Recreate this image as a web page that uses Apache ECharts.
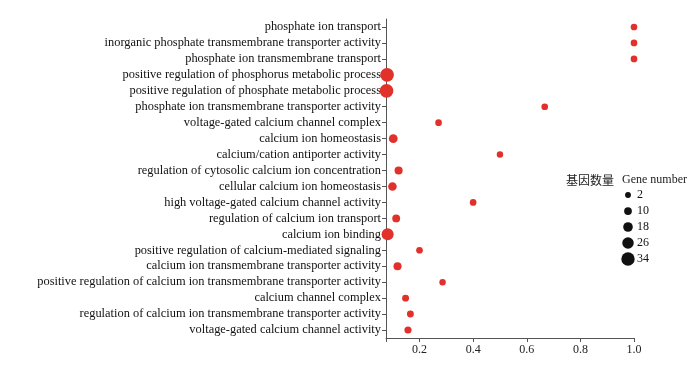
<!DOCTYPE html>
<html>
<head>
<meta charset="utf-8">
<script src="https://cdn.jsdelivr.net/npm/echarts@6/dist/echarts.min.js"></script>
<style>
  html, body { margin: 0; padding: 0; background: #fff; }
  #chart { width: 700px; height: 376px; }
</style>
</head>
<body>
<div id="chart"></div>
<script>
// GO terms, top to bottom
const terms = [
  'phosphate ion transport',
  'inorganic phosphate transmembrane transporter activity',
  'phosphate ion transmembrane transport',
  'positive regulation of phosphorus metabolic process',
  'positive regulation of phosphate metabolic process',
  'phosphate ion transmembrane transporter activity',
  'voltage-gated calcium channel complex',
  'calcium ion homeostasis',
  'calcium/cation antiporter activity',
  'regulation of cytosolic calcium ion concentration',
  'cellular calcium ion homeostasis',
  'high voltage-gated calcium channel activity',
  'regulation of calcium ion transport',
  'calcium ion binding',
  'positive regulation of calcium-mediated signaling',
  'calcium ion transmembrane transporter activity',
  'positive regulation of calcium ion transmembrane transporter activity',
  'calcium channel complex',
  'regulation of calcium ion transmembrane transporter activity',
  'voltage-gated calcium channel activity'
];
const ratios = [1.0, 1.0, 1.0, 0.079, 0.077, 0.667, 0.271, 0.102, 0.5, 0.122,
  0.099, 0.4, 0.113, 0.081, 0.2, 0.118, 0.286, 0.148, 0.166, 0.157];
const geneCounts = [8, 8, 8, 38, 38, 8, 8, 17, 7, 14, 16, 8, 13, 31, 8, 14, 7, 9, 9, 10];

const legendSizes = [2, 10, 18, 26, 34];
const xTicks = [0.2, 0.4, 0.6, 0.8, 1.0];

const serif = '"Liberation Serif", "Times New Roman", serif';
const dotSize = (n) => 4.8 + 0.235 * n;

const chart = echarts.init(document.getElementById('chart'));

const option = {
  animation: false,
  title: {
    text: '{cn|基因数量} {en|Gene number}',
    left: 561,
    top: 166,
    textStyle: {
      fontWeight: 'normal',
      rich: {
        cn: { fontFamily: '"Noto Sans CJK SC"', fontSize: 12, color: '#222', fontWeight: 'normal' },
        en: { fontFamily: serif, fontSize: 12, color: '#222', fontWeight: 'normal', padding: [0, 0, 0, 3] }
      }
    }
  },
  grid: [
    { left: 386, right: 66, top: 19, bottom: 38 },
    { left: 622, width: 12, top: 187, height: 80 }
  ],
  xAxis: [
    {
      type: 'value',
      gridIndex: 0,
      min: 0.075,
      max: 1.0,
      splitLine: { show: false },
      axisLine: { show: true, lineStyle: { color: '#555', width: 1 } },
      axisTick: { show: true, length: 4, lineStyle: { color: '#555' } },
      axisLabel: {
        fontFamily: serif,
        fontSize: 12,
        color: '#222',
        margin: 6,
        formatter: (v) => {
          const hit = xTicks.find((t) => Math.abs(t - v) < 1e-6);
          return hit === undefined ? '' : hit.toFixed(1);
        }
      }
    },
    {
      type: 'value', gridIndex: 1, min: 0, max: 1, show: false
    }
  ],
  yAxis: [
    {
      type: 'category',
      gridIndex: 0,
      data: terms,
      inverse: true,
      axisLine: { show: true, lineStyle: { color: '#555', width: 1 } },
      axisTick: { show: true, alignWithLabel: true, length: 4, lineStyle: { color: '#555' } },
      axisLabel: { fontFamily: serif, fontSize: 12.4, color: '#111', margin: 5, interval: 0 },
      splitLine: { show: false }
    },
    {
      type: 'category',
      gridIndex: 1,
      data: legendSizes.map(String),
      inverse: true,
      position: 'right',
      axisLine: { show: false },
      axisTick: { show: false },
      axisLabel: { fontFamily: serif, fontSize: 12, color: '#111', margin: 3 },
      splitLine: { show: false }
    }
  ],
  series: [
    {
      type: 'scatter',
      xAxisIndex: 0,
      yAxisIndex: 0,
      data: terms.map((t, i) => [ratios[i], t, geneCounts[i]]),
      symbolSize: (d) => dotSize(d[2]),
      itemStyle: { color: '#e2302b', opacity: 1 },
      clip: false
    },
    {
      type: 'scatter',
      xAxisIndex: 1,
      yAxisIndex: 1,
      data: legendSizes.map((s) => [0.5, String(s), s]),
      symbolSize: (d) => dotSize(d[2]) + 0.6,
      itemStyle: { color: '#111', opacity: 1 },
      silent: true
    }
  ]
};

chart.setOption(option);
</script>
</body>
</html>
